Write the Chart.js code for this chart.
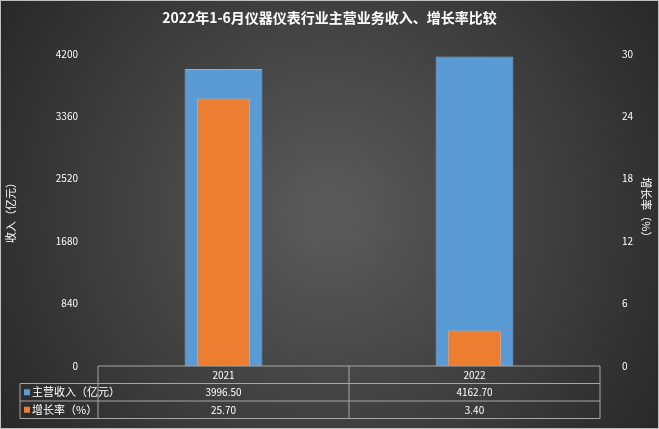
<!DOCTYPE html>
<html><head><meta charset="utf-8">
<script src="https://cdn.jsdelivr.net/npm/chart.js@4"></script>
<style>html,body{margin:0;padding:0;background:#333}</style>
</head><body><canvas id="c" width="659" height="429"></canvas>
<script>
const categories=['2021','2022'];
const revenue=[3996.50,4162.70];
const growth=[25.70,3.40];
const revenueLabel='主营收入（亿元）';
const growthLabel='增长率（%）';
const leftTitle='收入（亿元）';
const rightTitle='增长率（%）';
const leftTicks=[0,840,1680,2520,3360,4200];
const rightTicks=[0,6,12,18,24,30];
const F='"Noto Sans CJK SC","Noto Sans",sans-serif';
const bg={id:'bg',beforeDraw(ch){const c=ch.ctx,w=ch.width,h=ch.height;c.save();
const g=c.createRadialGradient(w/2,h/2,20,w/2,h/2,w*0.62);g.addColorStop(0,'#595959');g.addColorStop(1,'#262626');
c.fillStyle=g;c.fillRect(0,0,w,h);c.strokeStyle='#bfbfbf';c.lineWidth=1;c.strokeRect(0.5,0.5,w-1,h-1);c.restore();}};
const table={id:'table',afterDraw(ch){const c=ch.ctx,x=ch.scales.x,a=ch.chartArea;const top=a.bottom,rh=17.5,lx=20;
c.save();c.strokeStyle='#a6a6a6';c.lineWidth=1;
const rows=[top,top+rh,top+2*rh,top+3*rh];
c.beginPath();c.moveTo(a.left,rows[0]);c.lineTo(a.right,rows[0]);
for(let i=1;i<4;i++){c.moveTo(lx,rows[i]);c.lineTo(a.right,rows[i]);}
c.moveTo(lx,rows[1]);c.lineTo(lx,rows[3]);
const mid=(x.getPixelForValue(0)+x.getPixelForValue(1))/2;
[a.left,mid,a.right].forEach(px=>{c.moveTo(px,rows[0]);c.lineTo(px,rows[3]);});
c.stroke();
c.fillStyle='#fff';c.font='10px '+F;c.textAlign='center';c.textBaseline='middle';
categories.forEach((k,i)=>{const px=x.getPixelForValue(i);c.fillText(k,px,rows[0]+rh/2);
c.fillText(revenue[i].toFixed(2),px,rows[1]+rh/2);c.fillText(growth[i].toFixed(2),px,rows[2]+rh/2);});
c.textAlign='left';c.font='11px '+F;
c.fillStyle='#5b9bd5';c.fillRect(lx+4,rows[1]+rh/2-3,6,6);c.fillStyle='#fff';c.fillText(revenueLabel,lx+12,rows[1]+rh/2);
c.fillStyle='#ed7d31';c.fillRect(lx+4,rows[2]+rh/2-3,6,6);c.fillStyle='#fff';c.fillText(growthLabel,lx+12,rows[2]+rh/2);
c.restore();}};
new Chart(document.getElementById('c'),{type:'bar',
data:{labels:categories,datasets:[
{label:revenueLabel,data:revenue,yAxisID:'y',backgroundColor:'#5b9bd5',borderColor:'#7fb2e3',borderWidth:1,barPercentage:0.31,categoryPercentage:1,grouped:false,order:2},
{label:growthLabel,data:growth,yAxisID:'y1',backgroundColor:'#ed7d31',borderColor:'#f4a06a',borderWidth:1,barPercentage:0.21,categoryPercentage:1,grouped:false,order:1}]},
options:{responsive:false,animation:false,devicePixelRatio:1,
layout:{padding:{left:0,right:0,top:0,bottom:55}},
plugins:{legend:{display:false},tooltip:{enabled:false},
title:{display:true,text:'2022年1-6月仪器仪表行业主营业务收入、增长率比较',color:'#fff',font:{family:F,size:14,weight:'bold'},padding:{top:9,bottom:28}}},
scales:{x:{grid:{display:false},border:{display:false},ticks:{display:false}},
y:{min:0,max:4200,afterBuildTicks:s=>{s.ticks=leftTicks.map(v=>({value:v}));},afterFit:s=>{s.width=98;},grid:{display:false},border:{display:false},
ticks:{color:'#fff',font:{family:F,size:10},padding:12,callback:v=>String(v)},title:{display:true,text:leftTitle,color:'#fff',font:{family:F,size:11},padding:{bottom:6}}},
y1:{position:'right',min:0,max:30,afterBuildTicks:s=>{s.ticks=rightTicks.map(v=>({value:v}));},afterFit:s=>{s.width=59;},grid:{display:false},border:{display:false},
ticks:{color:'#fff',font:{family:F,size:10},padding:14,callback:v=>String(v)},title:{display:true,text:rightTitle,color:'#fff',font:{family:F,size:11},padding:{top:6}}}}},
plugins:[bg,table]});
</script></body></html>
